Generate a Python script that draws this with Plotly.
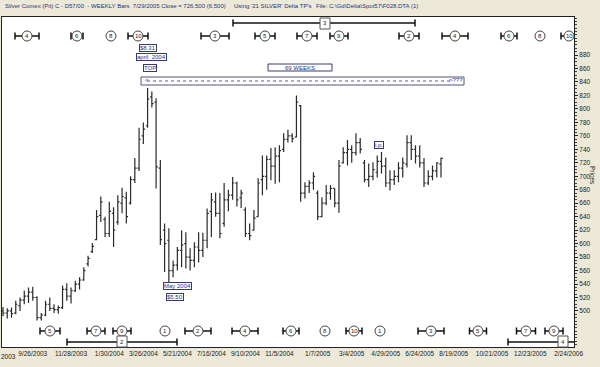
import plotly.graph_objects as go
import pandas as pd

# ---------------- data ----------------
bar_start = '2003-08-08'   # first weekly bar (Fridays)
opens = [500, 497, 500, 497, 508, 516, 522, 528, 520, 490,
         494, 510, 504, 502, 505, 532, 522, 530, 540, 546,
         570, 588, 606, 642, 636, 615, 645, 632, 660, 668,
         660, 695, 712, 760, 775, 818, 810, 712, 620, 605,
         560, 568, 590, 600, 580, 575, 595, 590, 605, 648,
         662, 645, 630, 665, 672, 690, 668, 650, 615, 620,
         640, 695, 700, 725, 715, 730, 740, 755, 760, 758,
         805, 675, 685, 690, 675, 640, 660, 675, 682, 660,
         720, 735, 740, 735, 750, 720, 695, 700, 706, 722,
         715, 690, 695, 700, 712, 718, 750, 740, 730, 720,
         690, 700, 708, 718]
highs = [506, 504, 505, 515, 520, 530, 535, 536, 522, 497,
         515, 520, 510, 508, 538, 541, 535, 545, 550, 565,
         582, 601, 650, 670, 640, 662, 654, 672, 683, 677,
         700, 727, 772, 780, 831, 826, 816, 724, 630, 623,
         575, 595, 620, 617, 593, 602, 617, 616, 652, 675,
         676, 675, 690, 680, 699, 692, 680, 654, 630, 650,
         697, 731, 731, 742, 743, 746, 764, 769, 764, 820,
         806, 691, 694, 706, 679, 669, 687, 687, 682, 724,
         743, 754, 746, 764, 757, 724, 719, 721, 731, 736,
         728, 709, 709, 721, 728, 761, 761, 746, 746, 727,
         709, 716, 721, 728]
lows = [492, 489, 490, 495, 500, 510, 512, 515, 486, 486,
        492, 500, 497, 496, 503, 515, 511, 528, 532, 545,
        566, 586, 605, 632, 610, 610, 595, 628, 645, 630,
        658, 690, 708, 748, 772, 802, 682, 598, 558, 543,
        550, 560, 565, 563, 560, 565, 572, 580, 593, 610,
        640, 608, 625, 648, 665, 655, 653, 610, 605, 620,
        640, 672, 680, 694, 689, 691, 736, 750, 750, 758,
        662, 667, 675, 680, 635, 639, 657, 665, 654, 646,
        719, 716, 720, 731, 734, 691, 684, 694, 698, 704,
        684, 679, 687, 691, 698, 713, 724, 719, 713, 684,
        687, 694, 698, 698]
closes = [497, 500, 496, 510, 516, 522, 528, 520, 490, 494,
          510, 504, 502, 505, 532, 522, 530, 540, 546, 560,
          578, 596, 640, 662, 615, 648, 620, 662, 670, 640,
          695, 712, 755, 770, 815, 808, 714, 606, 600, 560,
          568, 590, 598, 580, 575, 595, 590, 605, 645, 665,
          645, 615, 665, 672, 690, 665, 675, 615, 612, 638,
          690, 700, 725, 715, 730, 738, 755, 760, 756, 810,
          675, 685, 690, 700, 640, 660, 675, 682, 660, 715,
          735, 740, 735, 750, 740, 695, 700, 710, 722, 715,
          690, 695, 700, 712, 720, 750, 740, 730, 720, 690,
          700, 708, 720, 726.5]

tick_dates = ['2003-09-26', '2003-11-28', '2004-01-30', '2004-03-26', '2004-05-21',
              '2004-07-16', '2004-09-10', '2004-11-05', '2005-01-07', '2005-03-04',
              '2005-04-29', '2005-06-24', '2005-08-19', '2005-10-21', '2005-12-23',
              '2006-02-24']
tick_text = ['9/26/2003', '11/28/2003', '1/30/2004', '3/26/2004', '5/21/2004',
             '7/16/2004', '9/10/2004', '11/5/2004', '1/7/2005', '3/4/2005',
             '4/29/2005', '6/24/2005', '8/19/2005', '10/21/2005', '12/23/2005',
             '2/24/2006']
price_ticks = list(range(500, 881, 20))

top_cycle_labels = ['4', '6', '8', '10', '3', '5', '7', '9', '2', '4', '6', '8', '10']
bottom_cycle_labels = ['5', '7', '9', '1', '2', '4', '6', '8', '10', '1', '3', '5', '7', '9']

# ---------------- layout geometry (pixels) ----------------
FW, FH = 600, 367
ML, MR, MT, MB = 2, 26, 17, 20
PW, PH = FW - ML - MR, FH - MT - MB


def fx(p):
    return (p - ML) / PW


def fy(p):
    return 1 - (p - MT) / PH


NAVY = '#26338a'
FONT = 'Liberation Sans, Arial, sans-serif'

dates = pd.date_range(start=bar_start, periods=len(opens), freq='7D')

fig = go.Figure(go.Ohlc(
    x=dates, open=opens, high=highs, low=lows, close=closes,
    increasing=dict(line=dict(color='#2a2a2a', width=1.2)),
    decreasing=dict(line=dict(color='#2a2a2a', width=1.2)),
    tickwidth=0.4, hoverinfo='skip', showlegend=False))

shapes = []
annotations = []


def text(x, y, s, size=6, color=NAVY, anchor='left', box=False, angle=0):
    d = dict(x=fx(x), y=fy(y), xref='paper', yref='paper', text=s, showarrow=False,
             xanchor=anchor, yanchor='middle', textangle=angle,
             font=dict(family=FONT, size=size, color=color))
    if box:
        d.update(bgcolor='white', bordercolor='#3a3a6a', borderwidth=1, borderpad=0)
    annotations.append(d)


def line(x0, y0, x1, y1, color='#111111', width=1.5, dash='solid'):
    shapes.append(dict(type='line', xref='paper', yref='paper', x0=fx(x0), y0=fy(y0),
                       x1=fx(x1), y1=fy(y1), line=dict(color=color, width=width, dash=dash)))


def rect(x0, y0, x1, y1, color='#555555'):
    shapes.append(dict(type='rect', xref='paper', yref='paper', x0=fx(x0), y0=fy(y0),
                       x1=fx(x1), y1=fy(y1), fillcolor='white', line=dict(color=color, width=1)))


def cycle(cx, cy, label, hw):
    r = 5
    if hw:
        line(cx - hw, cy, cx - r, cy)
        line(cx + r, cy, min(cx + hw, FW - MR), cy)
        line(cx - hw, cy - 3.5, cx - hw, cy + 3.5)
        if cx + hw <= FW - MR:
            line(cx + hw, cy - 3.5, cx + hw, cy + 3.5)
    shapes.append(dict(type='circle', xref='paper', yref='paper', x0=fx(cx - r), y0=fy(cy - r),
                       x1=fx(cx + r), y1=fy(cy + r), fillcolor='white',
                       line=dict(color='#444444', width=1)))
    text(cx, cy, label, size=6, color='#222222', anchor='center')


top_x = [27, 77, 111, 138, 215, 265, 307, 339, 409, 455, 509, 540, 569]
top_hw = [12, 6, 0, 10, 14, 10, 10, 9, 10, 13, 8, 0, 8]
for lab, cx, hw in zip(top_cycle_labels, top_x, top_hw):
    cycle(cx, 36, lab, hw)

bot_x = [50, 96, 122, 165, 198, 245, 291, 325, 354, 380, 431, 478, 526, 554]
bot_hw = [10, 9, 9, 0, 13, 13, 8, 0, 8, 0, 13, 8.5, 9.5, 9]
for lab, cx, hw in zip(bottom_cycle_labels, bot_x, bot_hw):
    cycle(cx, 331, lab, hw)

# long cycle bars
line(233, 23, 415, 23)
line(233, 19.5, 233, 26.5)
line(415, 19.5, 415, 26.5)
rect(320, 18, 330, 29)
text(325, 23.5, '3', size=6, color='#222222', anchor='center')

line(67, 342, 177, 342)
line(67, 338.5, 67, 345.5)
line(177, 338.5, 177, 345.5)
rect(117, 336, 127, 347)
text(122, 341.5, '2', size=6, color='#222222', anchor='center')

line(508, 342, 574, 342)
line(508, 338.5, 508, 345.5)
rect(558, 336, 568, 347)
text(563, 341.5, '4', size=6, color='#222222', anchor='center')

# labels
text(148.5, 48, '$8.31', anchor='center', box=True)
text(151, 57.5, 'april  2004', anchor='center', box=True)
text(150, 67.5, 'TOP', anchor='center', box=True)
rect(268, 64, 332, 71, color='#3a3a6a')
text(300, 67.5, '69 WEEKS', anchor='center')
rect(141, 77, 464, 85, color='#555577')
line(147, 81, 450, 81, color='#5555aa', width=1, dash='dot')
text(143, 80.5, '&lt;', anchor='left', size=6)
text(447, 80.5, '&gt;???', anchor='left', size=6)
text(177, 285.5, 'May 2004', anchor='center', box=True)
text(175, 297, '$5.50', anchor='center', box=True)
text(379, 145, 'i.p.', anchor='center', box=True)

# header
text(3, 6, 'Silver Comex (Pit) C - D57/00  - WEEKLY Bars  7/29/2005 Close = 726.500 (6.500)', size=6)
text(232, 6, "Using '21 SILVER' Delta TP's", size=6)
text(314, 6, 'File: C:\\Gd\\Delta\\Spot57\\F028.DTA (1)', size=6)
text(8, 356, '2003', color='#222222', anchor='center', size=6.5)
text(593, 175, 'Prices', color='#222222', anchor='center', angle=90, size=6.5)

fig.update_layout(
    width=FW, height=FH,
    margin=dict(l=ML, r=MR, t=MT, b=MB, pad=0),
    paper_bgcolor='#ECE9D8', plot_bgcolor='white',
    shapes=shapes, annotations=annotations,
    xaxis=dict(type='date', range=['2003-08-06 08:30', '2006-03-04 21:36'],
               tickvals=tick_dates, ticktext=tick_text, ticks='', showgrid=False,
               zeroline=False, showline=True, linecolor='#222222', linewidth=1, mirror=True,
               rangeslider=dict(visible=False), tickangle=0,
               tickfont=dict(family=FONT, size=6.5, color='#222222')),
    yaxis=dict(range=[446.5, 936.5], side='right', tickvals=price_ticks, ticks='outside',
               ticklen=3, tickcolor='#222222', showgrid=False, zeroline=False,
               showline=True, linecolor='#222222', linewidth=1, mirror=True,
               tickfont=dict(family=FONT, size=6.5, color='#222222'),
               minor=dict(dtick=5, ticklen=1.5, ticks='outside', tickcolor='#444444')),
    showlegend=False,
)

fig.write_html('out.html')
